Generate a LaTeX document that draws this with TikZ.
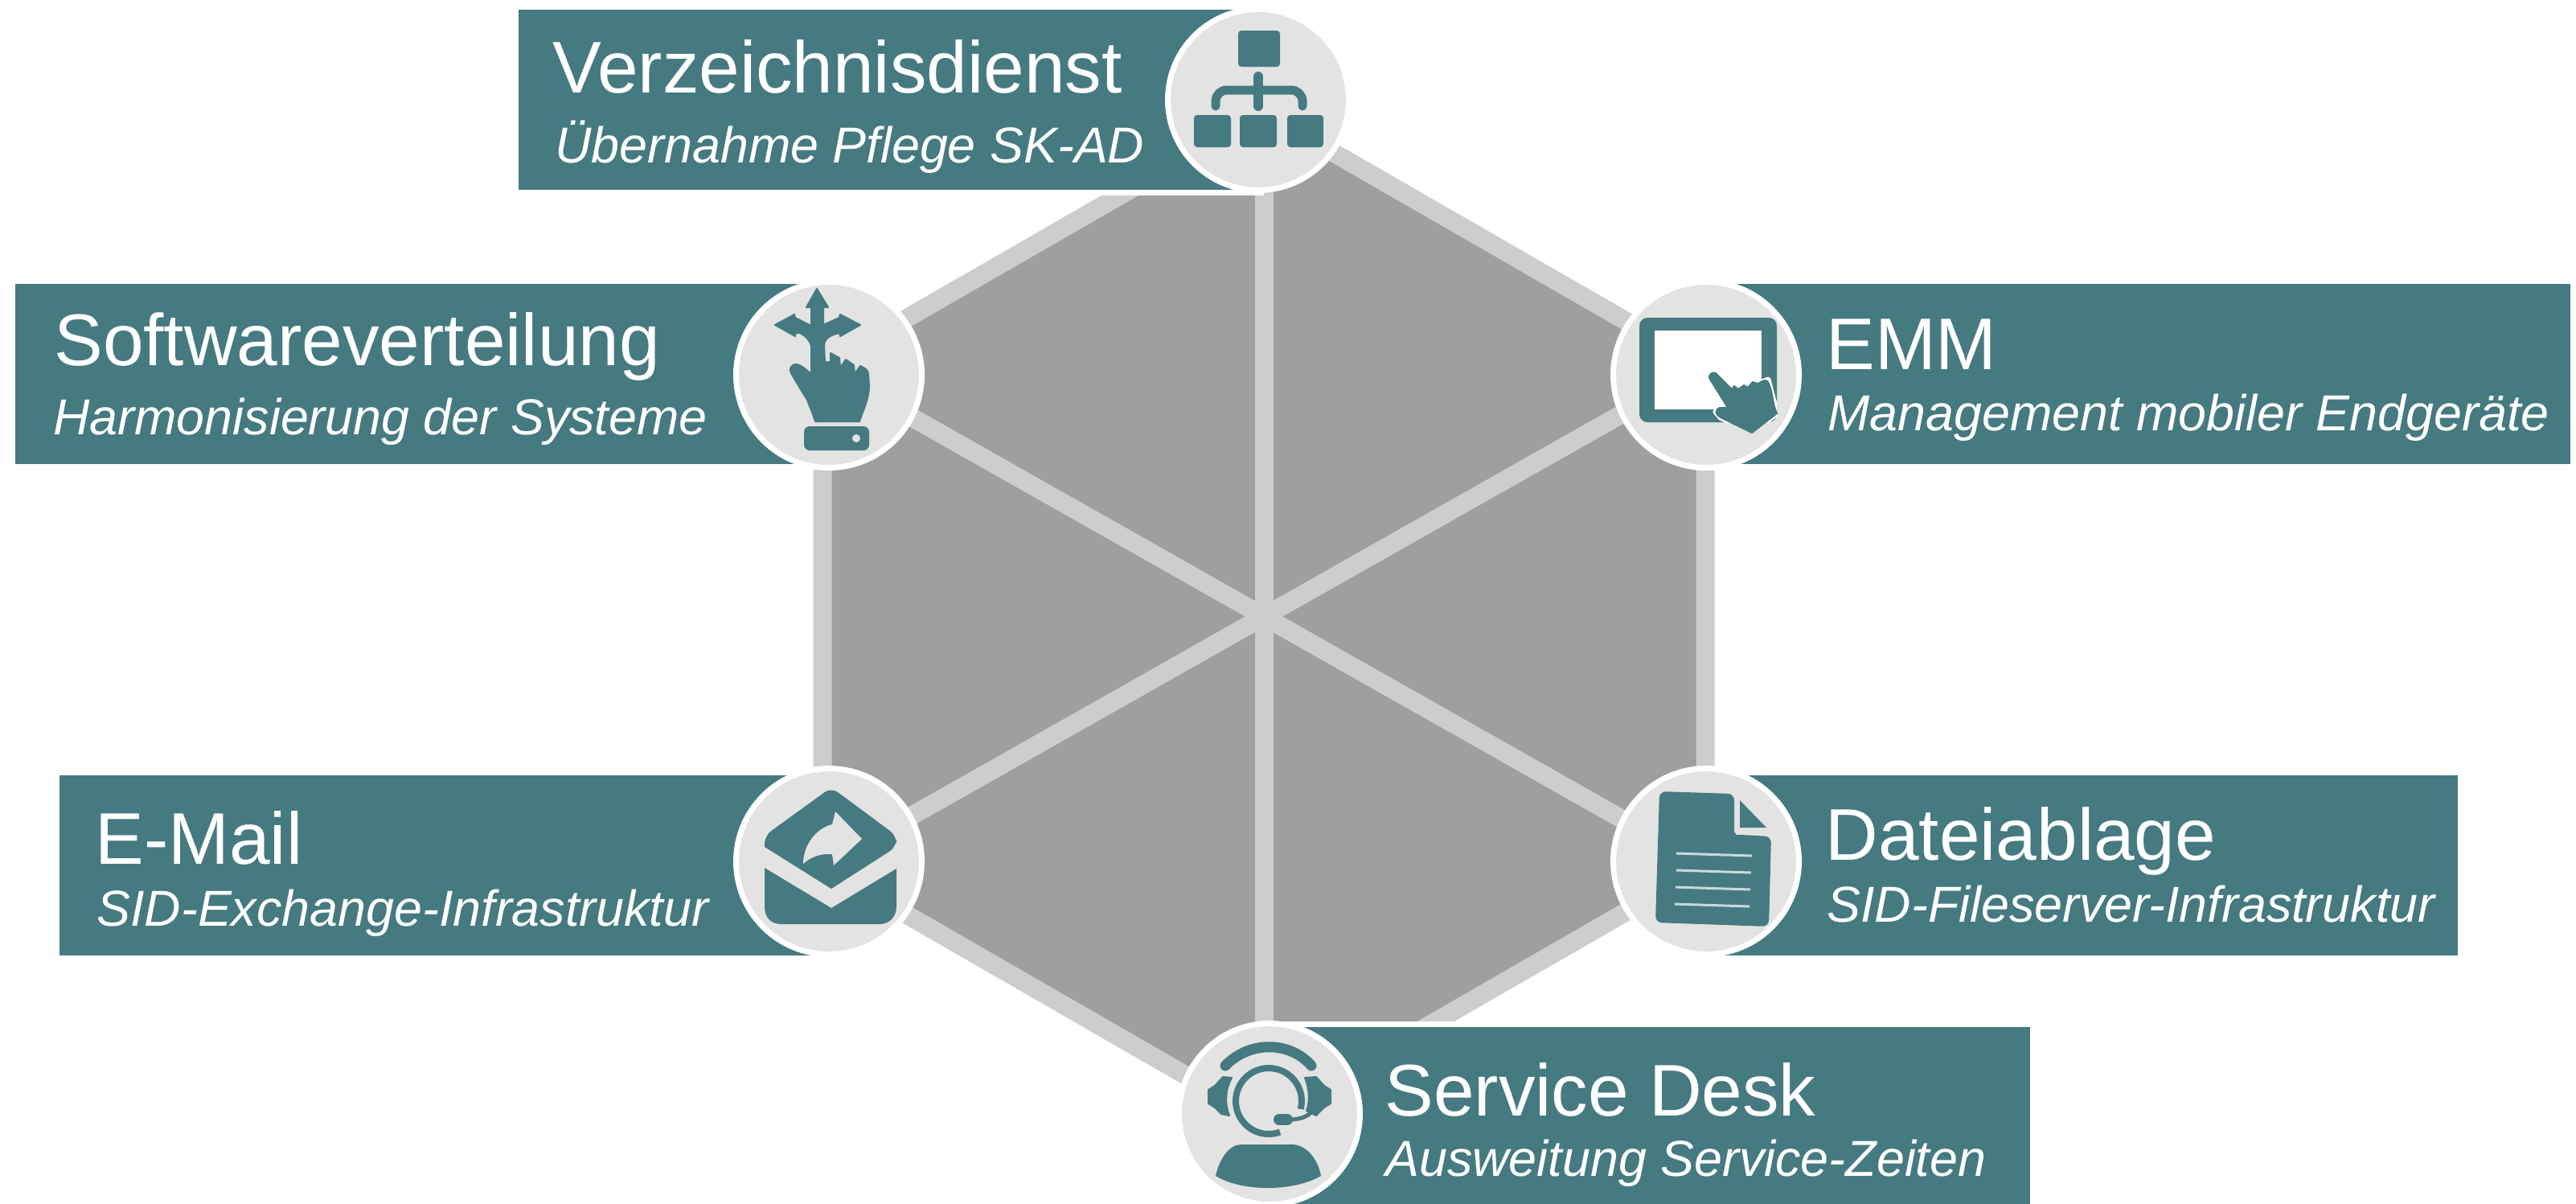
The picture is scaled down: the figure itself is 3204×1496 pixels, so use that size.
\documentclass[tikz,border=0pt]{standalone}
\usepackage{fontspec}
\setmainfont{Liberation Sans}
\definecolor{teal}{HTML}{457A80}
\definecolor{hexfill}{HTML}{9EA09E}
\definecolor{hexline}{HTML}{CDCDCD}
\definecolor{disc}{HTML}{E3E3E3}
\definecolor{pageline}{HTML}{C9DADB}
\newcommand{\panelbox}[4]{%
  \fill[white] (#1-7,#2-7) rectangle (#3+7,#4+7);
  \fill[teal] (#1,#2) rectangle (#3,#4);}
\tikzset{
  titletext/.style={anchor=base west,inner sep=0pt,text=white,font=\fontsize{45.5pt}{50pt}\selectfont},
  subtext/.style={anchor=base west,inner sep=0pt,text=white,font=\fontsize{31.4pt}{34pt}\selectfont\itshape},
  icondisc/.style={circle,fill=disc,draw=white,line width=3.5pt,minimum size=115.5pt,inner sep=0pt},
  smalldisc/.style={icondisc,minimum size=112.5pt},
  hexstrip/.style={draw=hexline,line width=11.5pt,line join=miter},
  ico/.style={fill=teal,draw=none},
  boldico/.style={fill=teal,draw=teal,line width=1pt,line join=round}
}
\begin{document}
\begin{tikzpicture}[x=0.5pt,y=-0.5pt]
\useasboundingbox (0,0) rectangle (3204,1496);
\fill[white] (0,0) rectangle (3204,1496);
% hexagon
\coordinate (h1) at (1572,140);
\coordinate (h2) at (2121,456);
\coordinate (h3) at (2121,1077);
\coordinate (h4) at (1572,1393);
\coordinate (h5) at (1023,1077);
\coordinate (h6) at (1023,456);
\fill[hexfill] (h1)--(h2)--(h3)--(h4)--(h5)--(h6)--cycle;
\draw[hexstrip] (h1)--(h2)--(h3)--(h4)--(h5)--(h6)--cycle;
\draw[hexstrip] (h1)--(h4);
\draw[hexstrip] (h2)--(h5);
\draw[hexstrip] (h3)--(h6);
% panels
\panelbox{645}{12}{1565}{236}
\panelbox{19}{353}{1031}{577}
\panelbox{2122}{353}{3197}{577}
\panelbox{74}{964}{1031}{1188}
\panelbox{2122}{964}{3057}{1188}
\panelbox{1579}{1277}{2525}{1500}
% texts
\node[titletext] (t1) at (687,115) {Verzeichnisdienst};
\node[subtext] (s1) at (690,202) {Übernahme Pflege SK-AD};
\node[titletext] (t2) at (67,454) {Softwareverteilung};
\node[subtext] (s2) at (66,540) {Harmonisierung der Systeme};
\node[titletext] (t3) at (2271,459) {EMM};
\node[subtext] (s3) at (2273,535) {Management mobiler Endgeräte};
\node[titletext] (t4) at (118,1074) {E-Mail};
\node[subtext] (s4) at (120,1151) {SID-Exchange-Infrastruktur};
\node[titletext] (t5) at (2270,1069) {Dateiablage};
\node[subtext] (s5) at (2272,1146) {SID-Fileserver-Infrastruktur};
\node[titletext] (t6) at (1722,1387) {Service Desk};
\node[subtext] (s6) at (1723,1462) {Ausweitung Service-Zeiten};
% discs
\node[smalldisc] (c1) at (1565,124) {};
\node[icondisc] (c2) at (1031,466) {};
\node[icondisc] (c3) at (2122,466) {};
\node[icondisc] (c4) at (1031,1071) {};
\node[icondisc] (c5) at (2122,1071) {};
\node[smalldisc] (c6) at (1579,1385) {};
% icon: directory tree
\begin{scope}[shift={(c1.center)}]
\fill[ico,rounded corners=2pt] (-25,-86) rectangle (27,-41);
\fill[ico,rounded corners=2pt] (-80,19) rectangle (-34,59);
\fill[ico,rounded corners=2pt] (-23,19) rectangle (23,59);
\fill[ico,rounded corners=2pt] (36,19) rectangle (81,59);
\draw[teal,line width=6pt,line cap=round] (0,-29) -- (0,8);
\draw[teal,line width=5.5pt,line cap=round,rounded corners=7pt] (-53,8) -- (-53,-12) -- (55,-12) -- (55,8);
\end{scope}
% icon: hand with arrows
\begin{scope}[shift={(c2.center)}]
\path[boldico] (-15,-107) -- (-1,-84) -- (-7,-84) -- (-7,-62) -- (13,-71) -- (14,-75) -- (39,-62) -- (14,-48) -- (13,-52)
  .. controls (4,-50) and (-6,-46) .. (-6,-36) -- (-5,-16) -- (2,-16) -- (2,-27) -- (13,-21) -- (14,-9) -- (21,-19) -- (31,-12) -- (32,-1) -- (39,-11)
  .. controls (46,-8) and (49,-5) .. (49,-1) -- (50,14) .. controls (50,30) and (42,45) .. (38,58) -- (-17,58)
  .. controls (-20,48) and (-24,40) .. (-27,31) .. controls (-33,22) and (-40,10) .. (-47,-2)
  .. controls (-50,-8) and (-47,-13) .. (-40,-13) .. controls (-34,-12) and (-28,-6) .. (-22,-1) -- (-22,-36)
  .. controls (-24,-43) and (-30,-50) .. (-37,-52) -- (-42,-52) -- (-42,-48) -- (-67,-62) -- (-43,-75) -- (-42,-71) -- (-22,-61) -- (-22,-84) -- (-28,-84) -- cycle;
\fill[ico,rounded corners=3.5pt] (-31,64) rectangle (50,94);
\fill[disc] (34,79) circle [radius=2.5pt];
\end{scope}
% icon: tablet
\begin{scope}[shift={(c3.center)}]
\fill[ico,rounded corners=5pt] (-83,-71) rectangle (88,59);
\fill[white] (-64,-55) rectangle (69,43);
\begin{scope}
\clip (-83,-71) rectangle (88,59);
\draw[white,line width=3.5pt,line join=round] (4,4) -- (12,-2) -- (32,18) -- (47,13) -- (65,11) -- (77,6) -- (88,48) -- (57,72) -- (18,53) -- (12,46) -- (17,41) -- (27,41) -- cycle;
\end{scope}
\path[boldico] (4,4) .. controls (3,-1) and (9,-4) .. (12,-2) -- (32,18) -- (35,14) -- (40,18) -- (47,13) -- (52,16) -- (58,9) -- (65,11)
  .. controls (72,6) and (75,6) .. (77,9) .. controls (83,20) and (82,35) .. (88,48) -- (57,72) -- (18,53) .. controls (12,50) and (10,44) .. (17,41) -- (27,41) -- cycle;
\end{scope}
% icon: envelope
\begin{scope}[shift={(c4.center)}]
\fill[ico,rounded corners=5pt] (-80,-18) -- (-80,-32) -- (3,-92) -- (84,-32) -- (84,-18) [sharp corners] -- (3,34) -- cycle;
\fill[ico] (-80,8) -- (3,58) -- (84,9) -- (84,56) .. controls (84,70) and (74,78) .. (63,78) -- (-59,78) .. controls (-72,78) and (-80,70) .. (-80,56) -- cycle;
\fill[disc] (8,-62) -- (41,-28) -- (6,5) -- (4,-9) .. controls (-10,-10) and (-22,-6) .. (-32,3) .. controls (-32,-22) and (-14,-42) .. (4,-46) -- cycle;
\end{scope}
% icon: document
\begin{scope}[shift={(c5.center)}]
\fill[ico,rounded corners=4pt] (-58,-87) -- (35,-84) -- (35,-44) .. controls (35,-37) and (39,-33) .. (45,-33) -- (81,-31) -- (78,81) -- (-63,76) -- cycle;
\fill[ico] (42,-76) -- (75,-42) -- (42,-42) -- cycle;
\draw[pageline,line width=1.5pt] (-37,-10) -- (57,-7) (-37,11) -- (56,14) (-38,32) -- (55,35) (-39,53) -- (54,56);
\end{scope}
% icon: headset
\begin{scope}[shift={(c6.center)}]
\draw[teal,line width=6.5pt,line cap=round] (-55,-60) .. controls (-25,-91) and (25,-91) .. (52,-60);
\draw[teal,line width=4pt] plot[domain=70:374,samples=50] ({-1+41*cos(\x)},{-16+41*sin(\x)});
\draw[teal,line width=7pt,line cap=round] (12,7) -- (22,7);
\draw[teal,line width=2.5pt] (24,7) .. controls (35,7) and (48,5) .. (55,-6);
\path[boldico] (-47,-45) -- (-58,-46) -- (-68,-35) -- (-76,-30) -- (-76,-13) -- (-68,-8) -- (-60,0) -- (-50,2) .. controls (-56,-14) and (-55,-30) .. (-47,-45) -- cycle;
\path[boldico] (44,-45) -- (58,-46) -- (68,-35) -- (76,-30) -- (76,-13) -- (68,-8) -- (58,2) -- (46,-4) .. controls (50,-14) and (50,-30) .. (44,-45) -- cycle;
\fill[ico] (-67,77) .. controls (-62,55) and (-50,38) .. (-35,38) -- (28,38) .. controls (45,38) and (60,55) .. (64,77) .. controls (30,97) and (-35,97) .. (-67,77) -- cycle;
\end{scope}
\end{tikzpicture}
\end{document}
